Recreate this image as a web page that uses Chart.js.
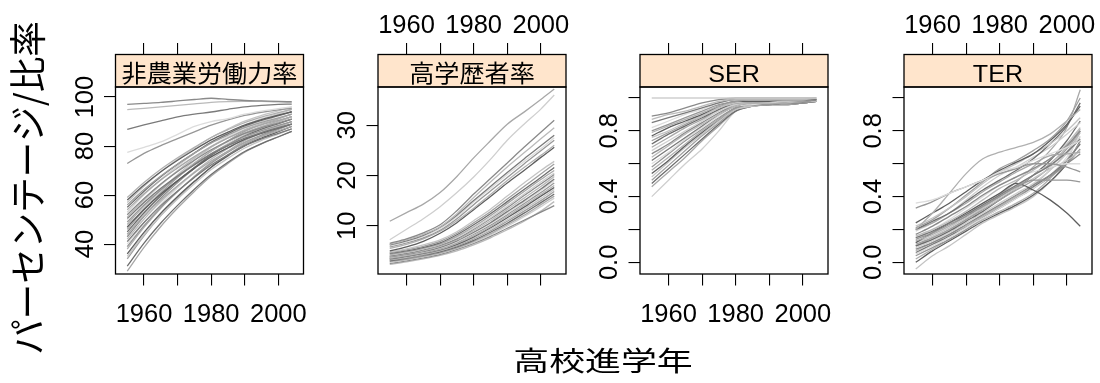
<!DOCTYPE html>
<html lang="ja">
<head>
<meta charset="utf-8">
<title>高校進学年別の推移</title>
<script src="https://cdn.jsdelivr.net/npm/chart.js@4.4.1/dist/chart.umd.min.js"></script>
<style>
  html, body { margin: 0; padding: 0; background: #fff; }
  #stage { position: relative; width: 1100px; height: 383px; overflow: hidden; }
  #stage canvas { position: absolute; left: 0; top: 0; }
</style>
</head>
<body>
<div id="stage">
  <canvas id="p0" width="1100" height="383"></canvas>
  <canvas id="p1" width="1100" height="383"></canvas>
  <canvas id="p2" width="1100" height="383"></canvas>
  <canvas id="p3" width="1100" height="383"></canvas>
</div>
<script>
// ---- data -------------------------------------------------------------
const years = [1955, 1960, 1965, 1970, 1975, 1980, 1985, 1990, 1995, 2000, 2004];

const panelTitles = ['非農業労働力率', '高学歴者率', 'SER', 'TER'];
const yAxisTitle = 'パーセンテージ/比率';
const xAxisTitle = '高校進学年';

const xTickValues = [1960, 1970, 1980, 1990, 2000];
const xTickLabels = ['1960', '', '1980', '', '2000'];

const nonFarmTicks = [40, 60, 80, 100];
const nonFarmTickLabels = ['40', '60', '80', '100'];
const higherEduTicks = [10, 20, 30];
const higherEduTickLabels = ['10', '20', '30'];
const ratioTicks = [0, 0.2, 0.4, 0.6, 0.8, 1.0];
const ratioTickLabels = ['0.0', '', '0.4', '', '0.8', ''];

// 非農業労働力率 (%), one row per prefecture
const nonFarmRate = [
  [97, 97.4, 97.8, 98.4, 99, 99.5, 99, 98.6, 98.4, 98.2, 98.1],
  [94.9, 95.4, 96, 96.6, 97.2, 97.8, 98.1, 98.2, 98.2, 98, 97.8],
  [86.8, 88.6, 90.3, 91.9, 93, 93.9, 95, 96, 96.6, 97, 97.1],
  [77.4, 79.5, 81.7, 84.8, 88, 90, 91.2, 93, 94.3, 95.3, 96],
  [72.9, 77, 80.2, 83, 85.8, 88.5, 90.7, 92.5, 93.8, 94.8, 95.4],
  [59, 65.1, 70.5, 75.2, 79.5, 83.5, 86.7, 89.6, 91.8, 93.6, 95],
  [58, 64.1, 69.5, 74.2, 78.5, 82.5, 85.7, 88.6, 90.8, 92.6, 94],
  [57, 63.6, 69.5, 74.6, 79.2, 83.5, 87, 90.2, 92.5, 94.4, 96],
  [56, 62.3, 67.8, 72.7, 77.1, 81.2, 84.5, 87.5, 89.7, 91.5, 93],
  [55, 61.6, 67.5, 72.6, 77.2, 81.5, 85, 88.2, 90.5, 92.4, 94],
  [54, 60.5, 66.2, 71.1, 75.7, 79.8, 83.3, 86.3, 88.6, 90.5, 92],
  [53, 60.1, 66.4, 71.9, 77, 81.6, 85.3, 88.7, 91.2, 93.3, 95],
  [52, 58.6, 64.5, 69.6, 74.2, 78.5, 82, 85.2, 87.5, 89.4, 91],
  [51, 58.1, 64.4, 69.9, 75, 79.6, 83.3, 86.7, 89.2, 91.3, 93],
  [50.5, 57, 62.8, 67.8, 72.4, 76.7, 80.1, 83.2, 85.5, 87.5, 89],
  [50, 57.5, 64.1, 69.8, 75.1, 79.9, 83.9, 87.4, 90, 92.2, 94],
  [49, 56, 62.1, 67.5, 72.4, 76.9, 80.6, 83.9, 86.3, 88.4, 90],
  [48, 55.5, 62.1, 67.8, 73.1, 77.9, 81.9, 85.4, 88, 90.2, 92],
  [47, 54.1, 60.4, 65.9, 70.9, 75.6, 79.3, 82.7, 85.2, 87.3, 89],
  [46.5, 54.7, 62, 68.3, 74.1, 79.5, 83.8, 87.7, 90.6, 93, 95],
  [46, 54, 61, 67.2, 72.8, 78, 82.2, 86, 88.8, 91.1, 93],
  [45, 52.8, 59.7, 65.7, 71.2, 76.3, 80.4, 84.1, 86.9, 89.2, 91],
  [44, 51.5, 58.1, 63.8, 69.1, 73.9, 77.9, 81.4, 84, 86.2, 88],
  [44, 52.2, 59.4, 65.6, 71.4, 76.6, 81, 84.8, 87.7, 90.1, 92],
  [43, 51.3, 58.7, 65.1, 70.9, 76.3, 80.7, 84.7, 87.6, 90, 92],
  [42, 50.2, 57.4, 63.6, 69.4, 74.6, 79, 82.8, 85.7, 88.1, 90],
  [41, 48.8, 55.7, 61.7, 67.2, 72.3, 76.4, 80.1, 82.9, 85.2, 87],
  [40, 48.7, 56.3, 63, 69.1, 74.7, 79.3, 83.4, 86.4, 89, 91],
  [39, 47.5, 55, 61.5, 67.5, 73, 77.5, 81.5, 84.5, 87, 89],
  [38, 46.8, 54.6, 61.4, 67.6, 73.4, 78, 82.2, 85.3, 87.9, 90],
  [36, 44.8, 52.6, 59.4, 65.6, 71.4, 76, 80.2, 83.3, 85.9, 88],
  [35, 43.8, 51.6, 58.4, 64.6, 70.4, 75, 79.2, 82.3, 84.9, 87],
  [34, 43.4, 51.6, 58.8, 65.4, 71.4, 76.4, 80.8, 84, 86.8, 89],
  [31, 40.4, 48.6, 55.8, 62.4, 68.4, 73.4, 77.8, 81, 83.8, 86],
  [29, 38.7, 47.2, 54.7, 61.5, 67.8, 72.9, 77.5, 80.9, 83.7, 86]
];

// 高学歴者率 (%)
const higherEduRate = [
  [10.9, 12.6, 14.3, 16.6, 19.8, 23.5, 26.9, 30.2, 32.6, 35.1, 37.2],
  [7.2, 9.3, 11.4, 13.8, 16.6, 19.7, 23.2, 27, 30.2, 33.2, 36],
  [6.5, 7.4, 8.6, 10.2, 13, 16.3, 19.4, 22.5, 25.6, 28.6, 31],
  [6.3, 7.2, 8.3, 9.8, 12.4, 15.6, 18.7, 21.7, 24.5, 27.3, 29.5],
  [6.2, 7, 8.1, 9.7, 12.1, 15, 17.8, 20.6, 23.3, 25.9, 28],
  [6, 6.8, 7.9, 9.4, 11.8, 14.7, 17.4, 20.2, 22.8, 25.3, 27.5],
  [5.8, 6.6, 7.6, 9.1, 11.4, 14.2, 16.9, 19.6, 22.3, 24.9, 27],
  [5.5, 6.3, 7.4, 8.9, 11, 13.5, 16.2, 19, 21.6, 24, 26],
  [5, 5.8, 6.9, 8.5, 10.6, 13.2, 15.8, 18.5, 21, 23.6, 25.6],
  [4.8, 5.4, 6.2, 7.2, 8.8, 11, 13.3, 15.9, 18.5, 21, 22.8],
  [4.6, 5.2, 5.9, 6.9, 8.5, 10.6, 12.8, 15.3, 17.8, 20.3, 22.3],
  [4.5, 5, 5.7, 6.6, 8.2, 10.2, 12.4, 14.8, 17.2, 19.6, 21.6],
  [4.3, 4.8, 5.5, 6.4, 7.9, 9.8, 12, 14.4, 16.8, 19.2, 21],
  [4.2, 4.7, 5.4, 6.3, 7.7, 9.5, 11.6, 13.9, 16.3, 18.7, 20.5],
  [4, 4.5, 5.2, 6.1, 7.4, 9.3, 11.4, 13.6, 16, 18.3, 20.2],
  [3.9, 4.4, 5, 5.9, 7.2, 9, 11, 13.2, 15.5, 17.8, 19.8],
  [3.8, 4.3, 4.9, 5.7, 7, 8.7, 10.6, 12.8, 15, 17.3, 19.3],
  [3.7, 4.2, 4.8, 5.6, 6.8, 8.5, 10.4, 12.5, 14.7, 17, 19],
  [3.6, 4.1, 4.7, 5.5, 6.7, 8.3, 10.1, 12.2, 14.4, 16.6, 18.5],
  [3.5, 4, 4.6, 5.3, 6.5, 8, 9.8, 11.9, 14, 16.2, 18],
  [3.4, 3.9, 4.5, 5.2, 6.3, 7.8, 9.6, 11.6, 13.7, 15.9, 17.6],
  [3.3, 3.8, 4.4, 5.1, 6.2, 7.6, 9.3, 11.2, 13.3, 15.4, 17.2],
  [3.2, 3.6, 4.2, 5, 6, 7.4, 9, 10.9, 12.9, 15, 16.8],
  [3, 3.5, 4.1, 4.8, 5.8, 7.1, 8.7, 10.5, 12.5, 14.6, 16.3],
  [2.9, 3.3, 3.9, 4.6, 5.6, 6.9, 8.4, 10.2, 12.1, 14.2, 15.9],
  [2.7, 3.2, 3.8, 4.5, 5.5, 6.7, 8.2, 9.9, 11.8, 13.8, 15.5],
  [2.5, 3, 3.6, 4.3, 5.3, 6.5, 7.9, 9.5, 11.1, 12.7, 14],
  [2.3, 2.8, 3.4, 4.1, 5, 6.2, 7.6, 9.2, 10.9, 12.9, 14.8]
];

// SER (比率)
const serRate = [
  [1, 1, 1, 1, 1, 1, 1, 1, 1, 1, 1],
  [0.89, 0.91, 0.94, 0.97, 0.99, 1, 1, 1, 1, 1, 1],
  [0.87, 0.9, 0.92, 0.95, 0.98, 0.99, 0.99, 0.99, 0.99, 0.99, 1],
  [0.85, 0.88, 0.91, 0.94, 0.97, 0.99, 0.99, 0.99, 0.99, 0.99, 0.99],
  [0.82, 0.86, 0.9, 0.93, 0.97, 0.99, 0.99, 0.99, 0.99, 0.99, 1],
  [0.8, 0.84, 0.88, 0.92, 0.96, 0.98, 0.99, 0.99, 0.99, 0.99, 0.99],
  [0.79, 0.83, 0.87, 0.91, 0.95, 0.98, 0.99, 0.99, 0.99, 0.99, 0.99],
  [0.77, 0.82, 0.86, 0.9, 0.95, 0.98, 0.98, 0.98, 0.99, 0.99, 0.99],
  [0.76, 0.8, 0.85, 0.89, 0.94, 0.97, 0.98, 0.98, 0.98, 0.99, 1],
  [0.74, 0.79, 0.84, 0.89, 0.94, 0.97, 0.98, 0.98, 0.98, 0.98, 0.99],
  [0.72, 0.78, 0.83, 0.88, 0.93, 0.97, 0.98, 0.98, 0.98, 0.98, 0.99],
  [0.7, 0.76, 0.82, 0.87, 0.93, 0.97, 0.97, 0.98, 0.98, 0.98, 0.99],
  [0.68, 0.74, 0.8, 0.86, 0.92, 0.96, 0.97, 0.97, 0.98, 0.98, 0.99],
  [0.66, 0.72, 0.79, 0.85, 0.91, 0.96, 0.97, 0.97, 0.98, 0.98, 0.99],
  [0.64, 0.71, 0.78, 0.84, 0.9, 0.95, 0.97, 0.97, 0.97, 0.98, 0.98],
  [0.62, 0.69, 0.76, 0.83, 0.9, 0.95, 0.97, 0.97, 0.97, 0.98, 0.99],
  [0.6, 0.67, 0.75, 0.82, 0.89, 0.95, 0.96, 0.97, 0.97, 0.98, 0.98],
  [0.58, 0.66, 0.74, 0.81, 0.88, 0.94, 0.96, 0.96, 0.97, 0.97, 0.98],
  [0.56, 0.64, 0.72, 0.8, 0.87, 0.94, 0.96, 0.97, 0.97, 0.98, 0.99],
  [0.54, 0.62, 0.71, 0.79, 0.87, 0.94, 0.96, 0.96, 0.97, 0.97, 0.98],
  [0.52, 0.61, 0.7, 0.78, 0.86, 0.93, 0.95, 0.96, 0.97, 0.97, 0.98],
  [0.5, 0.59, 0.68, 0.77, 0.85, 0.93, 0.95, 0.96, 0.96, 0.97, 0.98],
  [0.48, 0.57, 0.66, 0.75, 0.84, 0.92, 0.95, 0.96, 0.96, 0.97, 0.98],
  [0.46, 0.55, 0.64, 0.74, 0.83, 0.92, 0.95, 0.96, 0.96, 0.97, 0.98],
  [0.4, 0.5, 0.6, 0.69, 0.8, 0.92, 0.95, 0.96, 0.97, 0.97, 0.99]
];

// TER (比率)
const terRate = [
  [0.36, 0.38, 0.42, 0.46, 0.5, 0.55, 0.58, 0.62, 0.66, 0.7, 0.74],
  [0.33, 0.37, 0.42, 0.46, 0.5, 0.54, 0.57, 0.6, 0.6, 0.58, 0.55],
  [0.2, 0.3, 0.42, 0.54, 0.63, 0.67, 0.7, 0.73, 0.78, 0.86, 0.93],
  [0.24, 0.3, 0.36, 0.43, 0.5, 0.56, 0.61, 0.66, 0.74, 0.84, 0.95],
  [0.22, 0.27, 0.33, 0.4, 0.48, 0.55, 0.6, 0.66, 0.72, 0.8, 0.88],
  [0.21, 0.26, 0.33, 0.41, 0.49, 0.57, 0.62, 0.68, 0.75, 0.86, 1.0],
  [0.2, 0.25, 0.3, 0.37, 0.44, 0.5, 0.56, 0.63, 0.72, 0.83, 0.97],
  [0.2, 0.24, 0.3, 0.36, 0.43, 0.49, 0.55, 0.6, 0.65, 0.66, 0.67],
  [0.19, 0.24, 0.3, 0.38, 0.46, 0.53, 0.58, 0.64, 0.7, 0.78, 0.85],
  [0.17, 0.22, 0.28, 0.34, 0.41, 0.47, 0.52, 0.57, 0.63, 0.71, 0.8],
  [0.16, 0.2, 0.25, 0.31, 0.38, 0.45, 0.5, 0.56, 0.63, 0.72, 0.82],
  [0.15, 0.19, 0.24, 0.29, 0.35, 0.41, 0.47, 0.53, 0.59, 0.67, 0.75],
  [0.15, 0.2, 0.26, 0.33, 0.4, 0.47, 0.52, 0.55, 0.58, 0.6, 0.6],
  [0.14, 0.18, 0.23, 0.28, 0.34, 0.4, 0.46, 0.5, 0.5, 0.5, 0.49],
  [0.13, 0.17, 0.22, 0.28, 0.34, 0.4, 0.46, 0.53, 0.6, 0.7, 0.81],
  [0.12, 0.18, 0.24, 0.3, 0.36, 0.42, 0.48, 0.44, 0.38, 0.3, 0.22],
  [0.12, 0.16, 0.21, 0.27, 0.33, 0.39, 0.45, 0.51, 0.57, 0.62, 0.68],
  [0.11, 0.15, 0.2, 0.26, 0.32, 0.38, 0.44, 0.5, 0.58, 0.69, 0.8],
  [0.1, 0.14, 0.19, 0.25, 0.31, 0.38, 0.45, 0.53, 0.62, 0.74, 0.86],
  [0.1, 0.15, 0.2, 0.26, 0.33, 0.41, 0.49, 0.58, 0.68, 0.82, 1.05],
  [0.09, 0.13, 0.18, 0.24, 0.3, 0.36, 0.42, 0.48, 0.56, 0.66, 0.76],
  [0.08, 0.12, 0.17, 0.23, 0.29, 0.35, 0.41, 0.47, 0.53, 0.6, 0.66],
  [0.07, 0.12, 0.17, 0.22, 0.28, 0.34, 0.4, 0.47, 0.56, 0.67, 0.79],
  [0.06, 0.11, 0.16, 0.22, 0.28, 0.34, 0.4, 0.46, 0.53, 0.62, 0.72],
  [0.05, 0.1, 0.15, 0.21, 0.27, 0.33, 0.39, 0.45, 0.53, 0.64, 0.77],
  [0.04, 0.09, 0.14, 0.2, 0.27, 0.33, 0.39, 0.45, 0.52, 0.6, 0.69],
  [0.02, 0.08, 0.14, 0.2, 0.26, 0.31, 0.36, 0.42, 0.51, 0.62, 0.73],
  [0, 0.07, 0.13, 0.19, 0.25, 0.3, 0.35, 0.41, 0.49, 0.6, 0.74],
  [-0.04, 0.04, 0.1, 0.17, 0.24, 0.29, 0.34, 0.4, 0.49, 0.62, 0.8]
];

// ---- layout & style ---------------------------------------------------
const PAGE_W = 1100;
const PLOT_LEFTS = [115.5, 378, 640, 904];
const PLOT_W = 188;
const PLOT_TOP = 87;
const PLOT_BOTTOM = 274;
const STRIP_H = 32.5;
const TICK_LEN = 11.5;
const Y_AXIS_W = 60;
const X_MIN = 1951.5, X_MAX = 2007.5;

const TICK_FONT_PX = 25.5;
const TICK_FONT = TICK_FONT_PX + 'px "Liberation Sans", Arial, sans-serif';
const STRIP_FONT_PX = 23.5;
const STRIP_FONT = STRIP_FONT_PX + 'px "Liberation Sans", "Noto Sans CJK JP", sans-serif';
const TITLE_FONT_FAMILY = '"Noto Sans CJK JP", sans-serif';
const STRIP_FILL = '#FFE5CC';
const greys = ['#6e6e6e', '#a8a8a8', '#cfcfcf', '#8a8a8a', '#bababa', '#7a7a7a',
               '#dcdcdc', '#979797', '#b0b0b0', '#5e5e5e', '#c4c4c4', '#a0a0a0'];

const panels = [
  { series: nonFarmRate,   yMin: 27.8,   yMax: 104.1, yTicks: nonFarmTicks,   yLabels: nonFarmTickLabels,   xOnTop: false, shade: 3 },
  { series: higherEduRate, yMin: 0.4,    yMax: 37.6,  yTicks: higherEduTicks, yLabels: higherEduTickLabels, xOnTop: true,  shade: 1 },
  { series: serRate,       yMin: -0.071, yMax: 1.067, yTicks: ratioTicks,     yLabels: ratioTickLabels,     xOnTop: false, shade: 2 },
  { series: terRate,       yMin: -0.071, yMax: 1.067, yTicks: ratioTicks,     yLabels: ratioTickLabels,     xOnTop: true,  shade: 6 }
];

// Text centred on (x, y) by its cap/ideograph height, optionally rotated and widened.
function drawText(ctx, text, x, y, font, px, sx, rot) {
  ctx.save();
  ctx.translate(x, y);
  ctx.rotate(rot);
  ctx.scale(sx, 1);
  ctx.font = font;
  ctx.fillStyle = '#000';
  ctx.textAlign = 'center';
  ctx.textBaseline = 'alphabetic';
  ctx.fillText(text, 0, px * 0.36);
  ctx.restore();
}

// Strip, frame, tick labels and the shared axis titles.
const panelDecor = {
  id: 'panelDecor',
  afterDraw(chart, args, o) {
    const { ctx, chartArea: a, scales } = chart;
    const w = a.right - a.left;
    ctx.save();
    ctx.fillStyle = STRIP_FILL;
    ctx.fillRect(a.left, a.top - STRIP_H, w, STRIP_H);
    ctx.lineWidth = 1.3;
    ctx.strokeStyle = '#000';
    ctx.strokeRect(a.left, a.top - STRIP_H, w, STRIP_H);
    ctx.strokeRect(a.left, a.top, w, a.bottom - a.top);
    ctx.restore();

    drawText(ctx, o.title, (a.left + a.right) / 2, a.top - STRIP_H / 2 + 2.5,
             STRIP_FONT, STRIP_FONT_PX, 1.07, 0);

    const xs = scales.x;
    const ly = o.xOnTop ? 24.2 : 312.5;
    xTickValues.forEach((v, i) => {
      if (xTickLabels[i]) drawText(ctx, xTickLabels[i], xs.getPixelForValue(v), ly,
                                   TICK_FONT, TICK_FONT_PX, 1, 0);
    });
    const ys = scales.y;
    o.yTicks.forEach((v, i) => {
      if (o.yLabels[i]) drawText(ctx, o.yLabels[i], a.left - 32, ys.getPixelForValue(v),
                                 TICK_FONT, TICK_FONT_PX, 1, -Math.PI / 2);
    });

    if (o.axisTitles) {
      drawText(ctx, yAxisTitle, 29, 188, '37px ' + TITLE_FONT_FAMILY, 37, 0.96, -Math.PI / 2);
      drawText(ctx, xAxisTitle, 603, 361, '27px ' + TITLE_FONT_FAMILY, 27, 1.33, 0);
    }
  }
};

function tickScale(values) {
  return s => { s.ticks = values.map(v => ({ value: v })); };
}
const tickGrid = len => ({ drawOnChartArea: false, drawTicks: true, tickLength: len,
                           color: '#000', tickColor: '#000', lineWidth: 1.1, tickWidth: 1.1 });

panels.forEach((p, idx) => {
  const left = PLOT_LEFTS[idx];
  new Chart(document.getElementById('p' + idx), {
    type: 'line',
    data: {
      datasets: p.series.map((vals, k) => ({
        data: years.map((yr, i) => ({ x: yr, y: vals[i] })),
        borderColor: greys[(k + p.shade) % greys.length],
        borderWidth: 1.3,
        pointRadius: 0,
        fill: false,
        cubicInterpolationMode: 'monotone'
      }))
    },
    options: {
      responsive: false,
      animation: false,
      devicePixelRatio: 1,
      events: [],
      layout: { padding: { left: left - Y_AXIS_W, right: PAGE_W - left - PLOT_W, top: 0, bottom: 0 } },
      plugins: {
        legend: { display: false },
        tooltip: { enabled: false },
        panelDecor: { title: panelTitles[idx], xOnTop: p.xOnTop, yTicks: p.yTicks,
                      yLabels: p.yLabels, axisTitles: idx === 0 }
      },
      scales: {
        x: {
          type: 'linear', position: 'bottom', min: X_MIN, max: X_MAX,
          afterBuildTicks: tickScale(xTickValues),
          afterFit: s => { s.height = 383 - PLOT_BOTTOM; },
          ticks: { display: false },
          grid: tickGrid(TICK_LEN),
          border: { display: false }
        },
        xTop: {
          type: 'linear', position: 'top', min: X_MIN, max: X_MAX,
          afterBuildTicks: tickScale(xTickValues),
          afterFit: s => { s.height = PLOT_TOP; },
          ticks: { display: false },
          grid: tickGrid(STRIP_H + TICK_LEN),
          border: { display: false }
        },
        y: {
          type: 'linear', position: 'left', min: p.yMin, max: p.yMax,
          afterBuildTicks: tickScale(p.yTicks),
          afterFit: s => { s.width = Y_AXIS_W; },
          ticks: { display: false },
          grid: tickGrid(TICK_LEN),
          border: { display: false }
        }
      }
    },
    plugins: [panelDecor]
  });
});
</script>
</body>
</html>
